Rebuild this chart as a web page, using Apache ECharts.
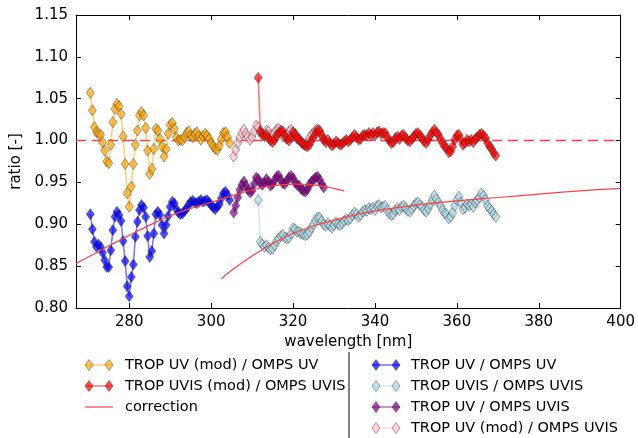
<!DOCTYPE html>
<html><head><meta charset="utf-8">
<script src="https://cdn.jsdelivr.net/npm/echarts@6/dist/echarts.min.js"></script>
<style>html,body{margin:0;padding:0;background:#fff}#c{width:638px;height:438px}</style>
</head><body><div id="c"></div>
<script>
// wavelengths for TROP UV ratios (orange, blue)
var uvWl = [270.5,271.0,271.5,272.0,272.5,273.0,273.5,274.0,274.5,275.0,275.5,276.0,276.5,277.0,277.5,278.0,278.5,279.0,279.5,280.0,280.5,281.0,281.5,282.0,282.5,283.0,283.5,284.0,284.5,285.0,285.5,286.0,286.5,287.0,287.5,288.0,288.5,289.0,289.5,290.0,290.5,291.0,291.5,292.0,292.5,293.0,293.5,294.0,294.5,295.0,295.5,296.0,296.5,297.0,297.5,298.0,298.5,299.0,299.5,300.0,300.5,301.0,301.5,302.0,302.5,303.0,303.5,304.0,304.5];
var tropUvModOmpsUv = [1.057,1.036,1.016,1.010,1.008,1.007,0.998,0.988,0.975,0.973,0.995,1.022,1.038,1.044,1.041,1.032,1.005,0.972,0.937,0.921,0.945,0.972,0.995,1.012,1.030,1.034,1.030,1.015,0.988,0.960,0.966,0.990,1.014,1.012,1.002,0.993,0.981,0.990,1.008,1.019,1.021,1.014,1.004,1.000,1.001,1.000,1.004,1.009,1.011,1.006,1.004,1.008,1.010,1.005,1.001,1.005,1.008,1.006,1.002,0.997,0.993,0.990,0.989,0.994,1.002,1.009,1.010,1.004,0.997];
var tropUvOmpsUv = [0.912,0.894,0.879,0.873,0.876,0.873,0.866,0.857,0.849,0.849,0.869,0.893,0.909,0.915,0.911,0.904,0.880,0.856,0.826,0.814,0.837,0.852,0.885,0.903,0.917,0.923,0.920,0.909,0.886,0.861,0.868,0.889,0.912,0.915,0.911,0.899,0.889,0.899,0.910,0.921,0.927,0.925,0.918,0.914,0.912,0.913,0.916,0.919,0.923,0.927,0.928,0.926,0.925,0.927,0.929,0.927,0.928,0.929,0.926,0.923,0.920,0.918,0.921,0.924,0.931,0.937,0.939,0.935,0.929];
// wavelengths for TROP UV / OMPS UVIS ratios (purple, pink)
var uvUvisWl = [305.5,306.0,306.5,307.0,307.5,308.0,308.5,309.0,309.5,310.0,310.5,311.0,311.5,312.0,312.5,313.0,313.5,314.0,314.5,315.0,315.5,316.0,316.5,317.0,317.5,318.0,318.5,319.0,319.5,320.0,320.5,321.0,321.5,322.0,322.5,323.0,323.5,324.0,324.5,325.0,325.5,326.0,326.5,327.0,327.5];
var tropUvOmpsUvis = [0.914,0.922,0.932,0.941,0.947,0.951,0.946,0.941,0.938,0.940,0.948,0.956,0.954,0.949,0.947,0.950,0.954,0.951,0.946,0.948,0.953,0.957,0.958,0.953,0.949,0.948,0.952,0.956,0.958,0.955,0.950,0.947,0.946,0.942,0.940,0.939,0.942,0.947,0.951,0.953,0.956,0.957,0.953,0.948,0.944];
var tropUvModOmpsUvis = [0.981,0.989,0.997,1.004,1.009,1.013,1.008,1.004,1.001,1.004,1.011,1.018,1.016,1.010,1.006,1.008,1.012,1.011,1.006,1.006,1.010,1.013,1.014,1.009,1.005,1.004,1.007,1.011,1.013,1.010,1.005,1.002,1.001,0.998,0.996,0.995,0.998,1.003,1.007,1.009,1.012,1.014,1.012,1.006,1.001];
// wavelengths for TROP UVIS ratios (red, light blue)
var uvisWl = [311.5,312.0,312.5,313.0,313.5,314.0,314.5,315.0,315.5,316.0,316.5,317.0,317.5,318.0,318.5,319.0,319.5,320.0,320.5,321.0,321.5,322.0,322.5,323.0,323.5,324.0,324.5,325.0,325.5,326.0,326.5,327.0,327.5,328.0,328.5,329.0,329.5,330.0,330.5,331.0,331.5,332.0,332.5,333.0,333.5,334.0,334.5,335.0,335.5,336.0,336.5,337.0,337.5,338.0,338.5,339.0,339.5,340.0,340.5,341.0,341.5,342.0,342.5,343.0,343.5,344.0,344.5,345.0,345.5,346.0,346.5,347.0,347.5,348.0,348.5,349.0,349.5,350.0,350.5,351.0,351.5,352.0,352.5,353.0,353.5,354.0,354.5,355.0,355.5,356.0,356.5,357.0,357.5,358.0,358.5,359.0,359.5,360.0,360.5,361.0,361.5,362.0,362.5,363.0,363.5,364.0,364.5,365.0,365.5,366.0,366.5,367.0,367.5,368.0,368.5,369.0,369.5];
var tropUvisModOmpsUvis = [1.075,1.011,1.008,1.005,1.007,1.003,1.000,0.998,1.001,1.006,1.009,1.012,1.011,1.006,1.002,1.000,1.004,1.010,1.008,1.003,1.002,0.998,0.996,0.994,0.993,0.995,1.000,1.004,1.009,1.012,1.011,1.006,1.001,0.998,1.001,0.997,0.994,0.996,0.999,0.997,0.995,0.996,0.999,1.001,0.999,1.001,1.004,1.007,1.004,1.001,1.002,1.006,1.007,1.006,1.009,1.007,1.009,1.006,1.010,1.011,1.008,1.009,1.009,1.004,1.000,0.997,0.998,1.003,1.005,1.002,1.006,1.007,1.003,1.000,0.999,1.002,1.005,1.008,1.009,1.006,1.003,0.999,0.997,1.001,1.006,1.010,1.013,1.010,1.007,1.002,0.997,0.993,0.991,0.986,0.987,0.993,1.001,1.006,1.007,1.001,0.995,0.997,1.001,0.999,1.001,0.998,1.002,1.004,1.007,1.008,1.006,1.003,0.997,0.993,0.990,0.985,0.982];
var tropUvisOmpsUvis = [0.929,0.879,0.876,0.873,0.875,0.872,0.870,0.871,0.875,0.880,0.883,0.886,0.887,0.884,0.883,0.884,0.889,0.895,0.894,0.891,0.891,0.889,0.888,0.887,0.888,0.891,0.896,0.900,0.905,0.908,0.908,0.904,0.900,0.898,0.901,0.898,0.896,0.899,0.902,0.900,0.899,0.901,0.904,0.906,0.905,0.907,0.911,0.914,0.912,0.909,0.911,0.915,0.917,0.916,0.919,0.918,0.920,0.917,0.922,0.923,0.920,0.921,0.922,0.917,0.913,0.911,0.912,0.917,0.919,0.917,0.921,0.922,0.919,0.916,0.915,0.918,0.922,0.925,0.926,0.923,0.921,0.917,0.915,0.919,0.924,0.929,0.934,0.930,0.926,0.922,0.917,0.913,0.912,0.907,0.909,0.914,0.922,0.929,0.933,0.926,0.918,0.920,0.924,0.922,0.924,0.921,0.926,0.929,0.932,0.937,0.934,0.929,0.922,0.919,0.916,0.912,0.909];
// correction curves
var corrUvWl = [267,270,275,280,285,290,295,300,305,310,315,320,325,330,332.5];
var corrUvVals = [0.853,0.861,0.874,0.887,0.899,0.910,0.919,0.926,0.934,0.941,0.946,0.948,0.947,0.943,0.940];
var corrUvisWl = [302.5,305,310,315,320,325,330,335,340,350,360,370,380,390,400];
var corrUvisVals = [0.835,0.845,0.862,0.877,0.889,0.898,0.905,0.911,0.916,0.923,0.928,0.932,0.936,0.940,0.943];
var refWl = [267,400];
var refVals = [1.0,1.0];
var xTicks = [280,300,320,340,360,380,400];

function zip(a,b){var r=[];for(var i=0;i<a.length;i++)r.push([a[i],b[i]]);return r;}

var names = {
  orange:'TROP UV (mod) / OMPS UV', red:'TROP UVIS (mod) / OMPS UVIS', corr:'correction',
  blue:'TROP UV / OMPS UV', lblue:'TROP UVIS / OMPS UVIS', purple:'TROP UV / OMPS UVIS', pink:'TROP UV (mod) / OMPS UVIS'
};
var cols = {orange:'255,165,0', red:'255,0,0', blue:'0,0,255', lblue:'173,216,230', purple:'128,0,128', pink:'255,192,203'};

function dataSeries(key, data, z){
  return {name:names[key], type:'line', data:data, z:z, symbol:'diamond', symbolSize:[8,11],
    showSymbol:true, animation:false, clip:true,
    lineStyle:{color:'rgba('+cols[key]+',0.55)', width:1.5},
    itemStyle:{color:'rgba('+cols[key]+',0.7)', borderColor:'rgba(40,40,40,0.7)', borderWidth:0.6}};
}
var FONT = 'DejaVu Sans';
var chart = echarts.init(document.getElementById('c'), null, {renderer:'canvas'});

// legend graphics
var g = [];
function legendItem(x, y, key, isLine){
  var col = cols[key];
  if(isLine){
    g.push({type:'line', shape:{x1:x-4, y1:y, x2:x+24, y2:y}, style:{stroke:'rgba(255,64,64,1)', lineWidth:1.2}});
  } else {
    g.push({type:'line', shape:{x1:x-4, y1:y, x2:x+24, y2:y}, style:{stroke:'rgba('+col+',0.55)', lineWidth:1.5}});
    [x, x+20].forEach(function(cx){
      g.push({type:'polygon', shape:{points:[[cx,y-5.5],[cx+4,y],[cx,y+5.5],[cx-4,y]]},
        style:{fill:'rgba('+col+',0.7)', stroke:'rgba(40,40,40,0.7)', lineWidth:0.6}});
    });
  }
}
var rowY = [365,386,407,428];
var lx = 89, ltx = 125, rx = 376, rtx = 411;
legendItem(lx,rowY[0],'orange'); legendItem(lx,rowY[1],'red'); legendItem(lx,rowY[2],'red',true);
legendItem(rx,rowY[0],'blue'); legendItem(rx,rowY[1],'lblue'); legendItem(rx,rowY[2],'purple'); legendItem(rx,rowY[3],'pink');
[[ltx,0,'orange'],[ltx,1,'red'],[ltx,2,'corr'],[rtx,0,'blue'],[rtx,1,'lblue'],[rtx,2,'purple'],[rtx,3,'pink']].forEach(function(t){
  g.push({type:'text', style:{text:names[t[2]], x:t[0], y:rowY[t[1]], font:'14.5px "DejaVu Sans"', fill:'#000', verticalAlign:'middle', align:'left'}});
});
g.push({type:'line', shape:{x1:349, y1:352, x2:349, y2:438}, style:{stroke:'#000', lineWidth:1}});

var axisCommon = {axisLine:{show:true, lineStyle:{color:'#000', width:1}},
  axisTick:{show:true, inside:true, length:5, lineStyle:{color:'#000', width:1}},
  splitLine:{show:false}};

chart.setOption({
  animation:false,
  backgroundColor:'#fff',
  grid:{left:76, right:15, top:15, bottom:130, containLabel:false},
  xAxis:[
    Object.assign({}, axisCommon, {type:'value', min:267, max:400, position:'bottom',
      name:'wavelength [nm]', nameLocation:'middle', nameGap:25,
      nameTextStyle:{fontFamily:FONT, fontSize:15, color:'#000'},
      axisTick:{show:true, inside:true, length:5, customValues:xTicks, lineStyle:{color:'#000'}},
      axisLabel:{customValues:xTicks, fontFamily:FONT, fontSize:15, color:'#000', margin:7}}),
    Object.assign({}, axisCommon, {type:'value', min:267, max:400, position:'top',
      axisTick:{show:true, inside:true, length:5, customValues:xTicks, lineStyle:{color:'#000'}},
      axisLabel:{show:false}})
  ],
  yAxis:[
    Object.assign({}, axisCommon, {type:'value', min:0.80, max:1.15, interval:0.05, position:'left',
      name:'ratio [-]', nameLocation:'middle', nameGap:48,
      nameTextStyle:{fontFamily:FONT, fontSize:15, color:'#000'},
      axisLabel:{fontFamily:FONT, fontSize:15, color:'#000', margin:8, formatter:function(v){return v.toFixed(2);}}}),
    Object.assign({}, axisCommon, {type:'value', min:0.80, max:1.15, interval:0.05, position:'right',
      axisLabel:{show:false}})
  ],
  series:[
    {name:'ref', type:'line', data:zip(refWl, refVals), z:1, symbol:'none', animation:false,
      lineStyle:{color:'rgba(255,64,64,1)', width:1.5, type:[10,6]}},
    dataSeries('pink', zip(uvUvisWl, tropUvModOmpsUvis), 2),
    dataSeries('orange', zip(uvWl, tropUvModOmpsUv), 3),
    dataSeries('blue', zip(uvWl, tropUvOmpsUv), 4),
    dataSeries('purple', zip(uvUvisWl, tropUvOmpsUvis), 5),
    dataSeries('lblue', zip(uvisWl, tropUvisOmpsUvis), 6),
    dataSeries('red', zip(uvisWl, tropUvisModOmpsUvis), 7),
    {name:'correction', type:'line', data:zip(corrUvWl, corrUvVals), z:8, symbol:'none', smooth:0.3, animation:false,
      lineStyle:{color:'rgba(255,64,64,1)', width:1.2}},
    {name:'correction', type:'line', data:zip(corrUvisWl, corrUvisVals), z:8, symbol:'none', smooth:0.3, animation:false,
      lineStyle:{color:'rgba(255,64,64,1)', width:1.2}}
  ],
  graphic:g
});
</script></body></html>
